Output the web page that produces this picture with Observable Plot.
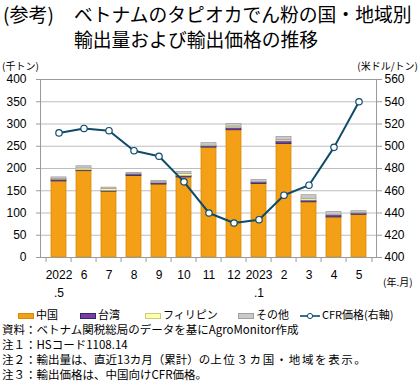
<!DOCTYPE html>
<html><head><meta charset="utf-8">
<script src="https://cdn.jsdelivr.net/npm/d3@7"></script>
<script src="https://cdn.jsdelivr.net/npm/@observablehq/plot@0.6"></script>
<style>
body{margin:0;background:#fff;}
#wrap{position:relative;width:420px;height:390px;font-family:"Noto Sans CJK JP",sans-serif;color:#000;overflow:hidden;background:#fff}
.abs{position:absolute;white-space:nowrap}
#chart{position:absolute;left:0;top:60px}
.sw{display:inline-block;width:16px;height:6px;vertical-align:middle;margin-right:2px;box-sizing:border-box}
</style></head><body><div id="wrap">
<div class="abs" style="left:3px;top:1px;font-size:19px;line-height:25px">(参考)</div>
<div class="abs" style="left:74px;top:1px;font-size:18.8px;line-height:25px">ベトナムのタピオカでん粉の国・地域別<br>輸出量および輸出価格の推移</div>
<div id="chart"></div>
<div class="abs" style="left:2px;top:60px;font-size:10px;line-height:11px">(千トン)</div>
<div class="abs" style="right:2px;top:60px;font-size:10px;line-height:11px">(米ドル/トン)</div>
<div class="abs" style="left:383px;top:276px;font-size:10px;line-height:12px">(年.月)</div>
<div id="legend"></div>
<div class="abs" style="left:2px;top:322px;font-size:11.5px;line-height:15px">資料：ベトナム関税総局のデータを基にAgroMonitor作成<br>注１：HSコード1108.14<br>注２：輸出量は、直近13カ月（累計）の<span style="letter-spacing:1.6px">上位３カ国・地域を表示。</span><br>注３：輸出価格は、中国向けCFR価格。</div>
</div>
<script>
const months = ["2022\n.5","6","7","8","9","10","11","12","2023\n.1","2","3","4","5"];
const china       = [171,194,148,183,164,180,247,286,165,255,124, 90, 96];
const taiwan      = [  4,  2,  2,  4,  4,  3,  3,  5,  4,  6,  4,  5,  3];
const philippines = [  1,  4,  4,  1,  1,  5,  1,  3,  1,  3,  4,  1,  1];
const others      = [  4,  5,  3,  2,  3,  4,  6,  6,  4,  7,  8,  6,  4];
const cfrPrice    = [512,516,514,496,491,468,440,431,434,456,465,499,540];
const seriesNames = ["中国","台湾","フィリピン","その他"];
const seriesFill   = ["#F4A016","#7A3DA8","#FFFFA8","#CACACA"];
const seriesStroke = ["#D98A0C","#2B2A6A","#C9C98A","#A0A0A0"];
const leftTicks  = [0,50,100,150,200,250,300,350,400];
const rightTicks = [400,420,440,460,480,500,520,540,560];

// right axis (400..560) mapped onto left scale (0..400)
const toLeft = p => (p - 400) * 400 / 160;
const fromLeft = v => Math.round(400 + v * 160 / 400);

const seriesValues = [china, taiwan, philippines, others];
const rows = [];
months.forEach((m, i) => {
  let base = 0;
  seriesValues.forEach((vals, s) => {
    rows.push({month: m, series: seriesNames[s], y1: base, y2: base + vals[i], fill: seriesFill[s], stroke: seriesStroke[s]});
    base += vals[i];
  });
});
const priceRows = months.map((m, i) => ({month: m, price: toLeft(cfrPrice[i])}));

const W = 420, H = 240, mL = 40, mR = 44;
const step = (W - mL - mR) / months.length;

const chart = Plot.plot({
  width: W, height: H,
  marginTop: 19, marginBottom: 43, marginLeft: mL, marginRight: mR,
  style: {fontFamily: "'Liberation Sans', Arial, sans-serif", fontSize: "12px", color: "#000", background: "#fff"},
  x: {domain: months, padding: 0.42, label: null},
  y: {domain: [0, 400], label: null},
  color: {type: "identity"},
  marks: [
    Plot.gridY(leftTicks, {stroke: "#BDBDBD", strokeOpacity: 1}),
    Plot.barY(rows, {x: "month", y1: "y1", y2: "y2", fill: "fill", stroke: "stroke", strokeWidth: 0.8}),
    Plot.line(priceRows, {x: "month", y: "price", stroke: "#0E4A6A", strokeWidth: 2}),
    Plot.dot(priceRows, {x: "month", y: "price", r: 3.2, fill: "#fff", stroke: "#0E4A6A", strokeWidth: 1.2}),
    Plot.frame({stroke: "#9A9A9A"}),
    Plot.axisY(leftTicks, {anchor: "left", tickSize: 4, tickPadding: 10, stroke: "#9A9A9A", label: null}),
    Plot.axisY(rightTicks.map(toLeft), {anchor: "right", tickSize: 5, tickPadding: 3, tickFormat: fromLeft, stroke: "#9A9A9A", label: null}),
    Plot.ruleX(months, {x: d => d, y1: 0, y2: 0, insetBottom: -5, dx: -step / 2, stroke: "#9A9A9A"}),
    Plot.ruleX([months[months.length - 1]], {x: d => d, y1: 0, y2: 0, insetBottom: -5, dx: step / 2, stroke: "#9A9A9A"}),
    Plot.axisX({tickSize: 0, tickPadding: 9, lineHeight: 1.5, label: null})
  ]
});
document.getElementById("chart").appendChild(chart);

// legend
const legend = document.getElementById("legend");
const legendX = [18, 80, 145, 238];
seriesNames.forEach((n, s) => {
  const d = document.createElement("div");
  d.className = "abs";
  d.style.cssText = `left:${legendX[s]}px;top:306px;font-size:11px;line-height:16px`;
  d.innerHTML = `<span class="sw" style="background:${seriesFill[s]};border:1px solid ${seriesStroke[s]}"></span>${n}`;
  legend.appendChild(d);
});
const ld = document.createElement("div");
ld.className = "abs";
ld.style.cssText = "left:300px;top:306px;font-size:11px;line-height:16px";
ld.innerHTML = `<svg width="20" height="10" style="vertical-align:middle;margin-right:2px"><line x1="0" x2="20" y1="5" y2="5" stroke="#0E4A6A" stroke-width="1.6"/><circle cx="10" cy="5" r="2.6" fill="#fff" stroke="#0E4A6A" stroke-width="1"/></svg>CFR価格(右軸)`;
legend.appendChild(ld);
</script>
</body></html>
